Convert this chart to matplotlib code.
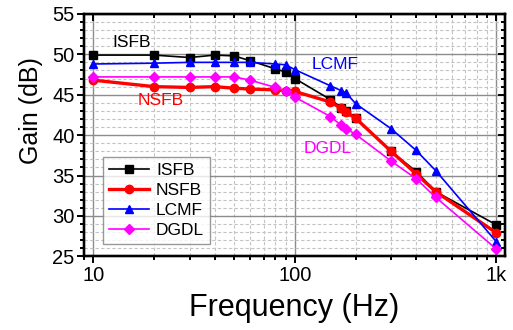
import matplotlib
matplotlib.use("Agg")
import matplotlib.pyplot as plt
from matplotlib.ticker import FixedLocator, FixedFormatter, MultipleLocator, NullFormatter

plt.rcParams['font.family'] = ['Liberation Sans', 'DejaVu Sans']

# frequencies (Hz)
freq = [10, 20, 30, 40, 50, 60, 80, 90, 100, 150, 170, 180, 200, 300, 400, 500, 1000]

# gain values (dB)
isfb = [49.9, 49.9, 49.6, 49.9, 49.8, 49.2, 48.2, 47.8, 47.0, 44.4, 43.4, 43.0, 42.1, 38.0, 35.5, 33.0, 28.9]
nsfb = [46.8, 46.0, 45.9, 46.0, 45.8, 45.7, 45.6, 45.5, 45.4, 44.1, 43.3, 42.8, 42.1, 38.0, 35.2, 33.0, 27.9]
lcmf = [48.8, 48.9, 49.0, 49.0, 49.0, 49.0, 48.8, 48.7, 48.1, 46.1, 45.5, 45.2, 43.9, 40.8, 38.1, 35.6, 26.8]
dgdl = [47.2, 47.2, 47.2, 47.2, 47.2, 46.8, 45.9, 45.5, 44.7, 42.3, 41.2, 40.8, 40.1, 36.8, 34.6, 32.3, 25.9]

x_ticks = [10, 100, 1000]
x_labels = ["10", "100", "1k"]

fig = plt.figure(figsize=(5.13, 3.30), dpi=100)
ax = fig.add_axes([0.164, 0.223, 0.820, 0.735])

ax.plot(freq, isfb, '-s', color='black', lw=1.2, ms=5.5, label='ISFB')
ax.plot(freq, nsfb, '-o', color='red', lw=2.4, ms=6, label='NSFB')
ax.plot(freq, lcmf, '-^', color='blue', lw=1.2, ms=6, label='LCMF')
ax.plot(freq, dgdl, '-D', color='magenta', lw=1.2, ms=5, label='DGDL')

ax.set_xscale('log')
ax.set_xlim(9.0, 1100)
ax.set_ylim(25, 55)
ax.xaxis.set_major_locator(FixedLocator(x_ticks))
ax.xaxis.set_major_formatter(FixedFormatter(x_labels))
ax.xaxis.set_minor_formatter(NullFormatter())
ax.yaxis.set_major_locator(MultipleLocator(5))
ax.yaxis.set_minor_locator(MultipleLocator(1))

ax.grid(True, which='major', color='#8c8c8c', lw=1.0, ls='-')
ax.grid(True, which='minor', color='#c4c4c4', lw=0.8, ls=(0, (3, 2)))
ax.set_axisbelow(True)

for s in ax.spines.values():
    s.set_linewidth(1.6)
# bottom/left ticks point out
ax.tick_params(which='both', direction='out', width=1.4, labelsize=14.5, pad=2)
ax.tick_params(which='major', length=5)
ax.tick_params(which='minor', length=3)

# top/right ticks point in (twin axes, no labels)
axt = ax.twiny()
axt.set_xscale('log')
axt.set_xlim(ax.get_xlim())
axt.xaxis.set_major_locator(FixedLocator(x_ticks))
axt.xaxis.set_minor_formatter(NullFormatter())
axt.tick_params(which='both', direction='in', width=1.4, labeltop=False)
axt.tick_params(which='major', length=5)
axt.tick_params(which='minor', length=3)
axr = ax.twinx()
axr.set_ylim(ax.get_ylim())
axr.yaxis.set_major_locator(MultipleLocator(5))
axr.yaxis.set_minor_locator(MultipleLocator(1))
axr.tick_params(which='both', direction='in', width=1.4, labelright=False)
axr.tick_params(which='major', length=5)
axr.tick_params(which='minor', length=3)
for a in (axt, axr):
    for s in a.spines.values():
        s.set_linewidth(1.6)

ax.set_xlabel('Frequency (Hz)', fontsize=22, labelpad=6)
ax.set_ylabel('Gain (dB)', fontsize=18)
ax.yaxis.set_label_coords(-0.097, 0.6)

ax.text(15.5, 51.4, 'ISFB', color='black', fontsize=12.5, ha='center', va='center')
ax.text(21.5, 44.3, 'NSFB', color='red', fontsize=12.5, ha='center', va='center')
ax.text(158, 48.7, 'LCMF', color='blue', fontsize=12.5, ha='center', va='center')
ax.text(146, 38.4, 'DGDL', color='magenta', fontsize=12.5, ha='center', va='center')

leg = ax.legend(loc='lower left', bbox_to_anchor=(0.045, 0.05), fontsize=12.5,
                frameon=True, fancybox=False, edgecolor='#808080',
                handlelength=2.3, handletextpad=0.4, borderpad=0.35,
                labelspacing=0.28, borderaxespad=0)
leg.get_frame().set_linewidth(1.0)

fig.savefig('out.png', dpi=100)
